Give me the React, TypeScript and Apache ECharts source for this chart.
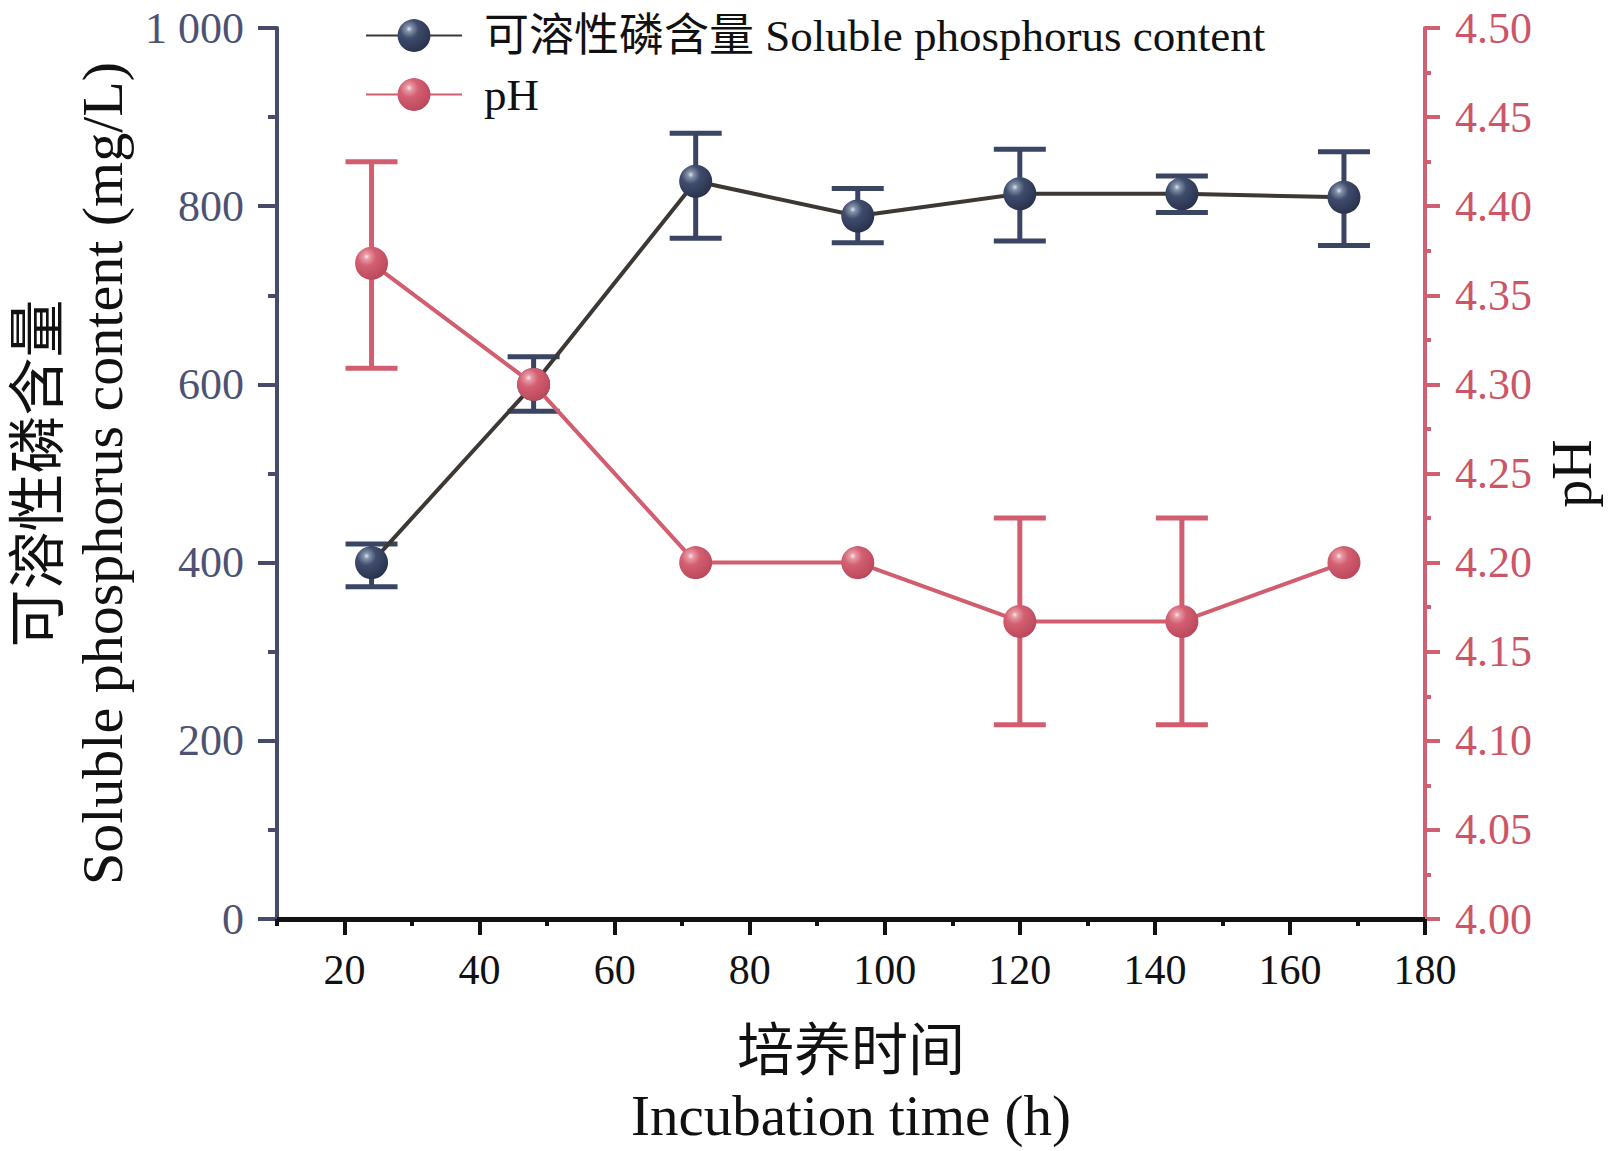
import React, { useEffect, useRef } from "react";
import * as echarts from "echarts";

const times = [24, 48, 72, 96, 120, 144, 168];
const phosphorus = [400, 600, 828, 789, 814, 814, 810];
const phosphorusLow = [373, 570, 764, 759, 761, 793, 756];
const phosphorusHigh = [421, 631, 882, 820, 864, 834, 861];
const phValues = [4.368, 4.3, 4.2, 4.2, 4.167, 4.167, 4.2];
const phLow = [4.309, null, null, null, 4.109, 4.109, null];
const phHigh = [4.425, null, null, null, 4.225, 4.225, null];
const xMajorTicks = [20, 40, 60, 80, 100, 120, 140, 160, 180];
const xMinorTicks = [10, 30, 50, 70, 90, 110, 130, 150, 170];

const nameP = "可溶性磷含量 Soluble phosphorus content";
const namePH = "pH";
const serif = '"Liberation Serif", "Times New Roman", "Noto Sans CJK SC", serif';

const navy = "#3a4563";
const navyAxis = "#464b6b";
const navyLabel = "#4d5274";
const pLine = "#3d3833";
const pink = "#d15d6f";
const pinkAxis = "#cf6072";
const pinkLabel = "#cc5667";

function makeErrorRender(color: string) {
  return (params: any, api: any) => {
    const x = api.value(0);
    const lo = api.coord([x, api.value(1)]);
    const hi = api.coord([x, api.value(2)]);
    const hw = 26;
    const style = { stroke: color, lineWidth: 5 };
    return {
      type: "group",
      children: [
        { type: "line", shape: { x1: lo[0], y1: lo[1], x2: hi[0], y2: hi[1] }, style },
        { type: "line", shape: { x1: lo[0] - hw, y1: lo[1], x2: lo[0] + hw, y2: lo[1] }, style },
        { type: "line", shape: { x1: hi[0] - hw, y1: hi[1], x2: hi[0] + hw, y2: hi[1] }, style },
      ],
    };
  };
}

function glossy(c0: string, c1: string, c2: string, c3: string) {
  return new echarts.graphic.RadialGradient(0.35, 0.3, 0.75, [
    { offset: 0, color: c0 },
    { offset: 0.12, color: c1 },
    { offset: 0.38, color: c2 },
    { offset: 1, color: c3 },
  ]);
}

export default function App() {
  const ref = useRef<HTMLDivElement>(null);

  useEffect(() => {
    document.body.style.margin = "0";
    if (!ref.current) return;
    const chart = echarts.init(ref.current, undefined, { renderer: "svg" });

    const pErr = times.map((t, i) => [t, phosphorusLow[i], phosphorusHigh[i]]);
    const phErr = times
      .map((t, i) => [t, phLow[i], phHigh[i]])
      .filter((d) => d[1] != null && d[2] != null);

    const option: any = {
      animation: false,
      backgroundColor: "#ffffff",
      grid: {
        left: 277,
        right: 195,
        top: 28,
        bottom: 232,
        containLabel: false,
        outerBoundsMode: "none",
      },
      legend: {
        orient: "vertical",
        left: 365,
        top: 13,
        padding: 0,
        itemWidth: 96,
        itemHeight: 41,
        itemGap: 14,
        data: [nameP, namePH],
        textStyle: {
          fontFamily: serif,
          fontSize: 45,
          color: "#111111",
          lineHeight: 45,
          padding: [0, 0, 0, 17],
        },
      },
      xAxis: [
        {
          type: "value",
          min: 10,
          max: 180,
          interval: 10,
          position: "bottom",
          axisLine: { show: true, onZero: false, lineStyle: { color: "#111111", width: 5 } },
          axisTick: {
            show: true,
            customValues: xMajorTicks,
            length: 16,
            lineStyle: { color: "#111111", width: 4 },
          },
          axisLabel: {
            customValues: xMajorTicks,
            formatter: (v: number) => (xMajorTicks.indexOf(v) >= 0 ? String(v) : ""),
            fontFamily: serif,
            fontSize: 42,
            color: "#111111",
            margin: 30,
          },
          splitLine: { show: false },
          name: "培养时间\nIncubation time (h)",
          nameLocation: "middle",
          nameGap: 99,
          nameTextStyle: { fontFamily: serif, fontSize: 57, lineHeight: 65, color: "#111111" },
        },
        {
          type: "value",
          min: 10,
          max: 180,
          interval: 10,
          position: "bottom",
          axisLine: { show: false, onZero: false },
          axisTick: {
            show: true,
            customValues: xMinorTicks,
            length: 7,
            lineStyle: { color: "#111111", width: 4 },
          },
          axisLabel: { show: false },
          splitLine: { show: false },
        },
      ],
      yAxis: [
        {
          type: "value",
          min: 0,
          max: 1000,
          interval: 200,
          position: "left",
          axisLine: { show: true, onZero: false, lineStyle: { color: navyAxis, width: 4 } },
          axisTick: { show: true, length: 19, lineStyle: { color: navyAxis, width: 4 } },
          minorTick: { show: true, splitNumber: 2, length: 9, lineStyle: { color: navyAxis, width: 4 } },
          axisLabel: {
            formatter: (v: number) => (v >= 1000 ? "1 000" : String(v)),
            fontFamily: serif,
            fontSize: 44,
            color: navyLabel,
            margin: 33,
          },
          splitLine: { show: false },
          name: "可溶性磷含量\nSoluble phosphorus content (mg/L)",
          nameLocation: "middle",
          nameGap: 122,
          nameTextStyle: { fontFamily: serif, fontSize: 58, lineHeight: 64, color: "#111111" },
        },
        {
          type: "value",
          min: 4,
          max: 4.5,
          interval: 0.05,
          position: "right",
          axisLine: { show: true, onZero: false, lineStyle: { color: pinkAxis, width: 4 } },
          axisTick: { show: true, length: 15, lineStyle: { color: pinkAxis, width: 4 } },
          minorTick: { show: true, splitNumber: 2, length: 6, lineStyle: { color: pinkAxis, width: 4 } },
          axisLabel: {
            formatter: (v: number) => v.toFixed(2),
            fontFamily: serif,
            fontSize: 44,
            color: pinkLabel,
            margin: 30,
          },
          splitLine: { show: false },
          name: "pH",
          nameLocation: "middle",
          nameGap: 119,
          nameTextStyle: { fontFamily: serif, fontSize: 56, color: "#111111" },
        },
      ],
      series: [
        {
          name: "P error",
          type: "custom",
          xAxisIndex: 0,
          yAxisIndex: 0,
          renderItem: makeErrorRender(navy),
          encode: { x: 0, y: [1, 2] },
          data: pErr,
          z: 1,
        },
        {
          name: nameP,
          type: "line",
          xAxisIndex: 0,
          yAxisIndex: 0,
          data: times.map((t, i) => [t, phosphorus[i]]),
          symbol: "circle",
          symbolSize: 33,
          showSymbol: true,
          lineStyle: { color: pLine, width: 4 },
          itemStyle: { color: glossy("#dfe6ee", "#8592aa", "#3f4c6c", "#27314b") },
          z: 2,
        },
        {
          name: "pH error",
          type: "custom",
          xAxisIndex: 0,
          yAxisIndex: 1,
          renderItem: makeErrorRender(pink),
          encode: { x: 0, y: [1, 2] },
          data: phErr,
          z: 3,
        },
        {
          name: namePH,
          type: "line",
          xAxisIndex: 0,
          yAxisIndex: 1,
          data: times.map((t, i) => [t, phValues[i]]),
          symbol: "circle",
          symbolSize: 33,
          showSymbol: true,
          lineStyle: { color: pink, width: 4 },
          itemStyle: { color: glossy("#fbe6ea", "#e79aa5", "#d35f71", "#b9475a") },
          z: 4,
        },
      ],
    };

    chart.setOption(option);
    return () => {
      chart.dispose();
    };
  }, []);

  return <div ref={ref} style={{ width: 1620, height: 1151 }} />;
}
